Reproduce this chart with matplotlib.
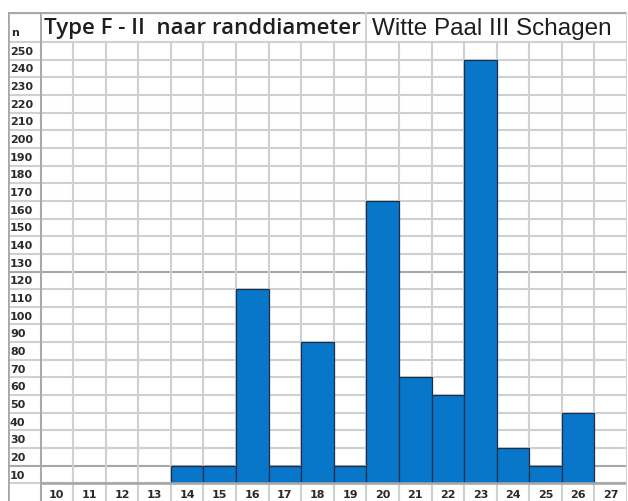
import numpy as np
import matplotlib
matplotlib.use("Agg")
import matplotlib.pyplot as plt

# randdiameter classes and counts (n)
diameters = list(range(10, 28))
counts = [0, 0, 0, 0, 10, 10, 110, 10, 80, 10, 160, 60, 50, 240, 20, 10, 40, 0]
ylabels = list(range(10, 260, 10))
title_left = "Type F - II  naar randdiameter"
title_right = "Witte Paal III Schagen"

fig = plt.figure(figsize=(6.28, 5.02), dpi=100)
ax = fig.add_axes([8 / 628, 0, 619 / 628, 489 / 502])
ax.set_xlim(8.5, 27.5)
ax.set_ylim(-10, 267)
ax.axis("off")

grid_c = "#d0d0d0"
dark_c = "#a8a8a8"
x0, x1 = 8.5, 27.5
ytop = 267

# horizontal grid lines
for v in range(0, 260, 10):
    c = dark_c if v in (10, 120) else grid_c
    ax.plot([x0, x1], [v, v], color=c, lw=1.5, zorder=1)
ax.plot([9.5, x1], [0, 0], color=dark_c, lw=1.8, zorder=3)
# vertical grid lines (columns + bottom label row)
for x in np.arange(9.5, 27.5, 1.0):
    ax.plot([x, x], [-10, 250], color=grid_c, lw=1.5, zorder=1)

# bars
ax.bar(diameters, counts, width=1.0, color="#0876c9", edgecolor="#1d2f4a",
       linewidth=0.9, zorder=2)

# header row and borders
ax.plot([x0, x1], [ytop - 0.5, ytop - 0.5], color=dark_c, lw=1.6, zorder=3)
ax.plot([x0, x0], [-10, ytop], color=dark_c, lw=2.0, zorder=3)
ax.plot([x1, x1], [-10, ytop], color=grid_c, lw=1.4, zorder=3)
ax.plot([9.5, 9.5], [-10, ytop], color=dark_c, lw=1.4, zorder=3)
ax.plot([19.5, 19.5], [250, ytop], color=grid_c, lw=1.4, zorder=3)

# y labels in the left column
for v in ylabels:
    ax.text(8.56, v - 5, str(v), ha="left", va="center", fontsize=8,
            fontweight="bold", color="#2a2a2a", family="DejaVu Sans")
ax.text(8.6, 255.5, "n", ha="left", va="center", fontsize=8,
        fontweight="bold", color="#2a2a2a", family="DejaVu Sans")

# x labels in the bottom row
for d in diameters:
    ax.text(d, -6, str(d), ha="center", va="center", fontsize=8,
            fontweight="bold", color="#2a2a2a", family="DejaVu Sans")

# titles
ax.text(9.6, 258, title_left, ha="left", va="center", fontsize=16,
        fontweight="semibold", color="#1e1e1e", family="Open Sans")
ax.text(19.68, 258, title_right, ha="left", va="center", fontsize=17.5,
        color="#1e1e1e", family="Liberation Sans")

fig.savefig("out.png", dpi=100, facecolor="white")
